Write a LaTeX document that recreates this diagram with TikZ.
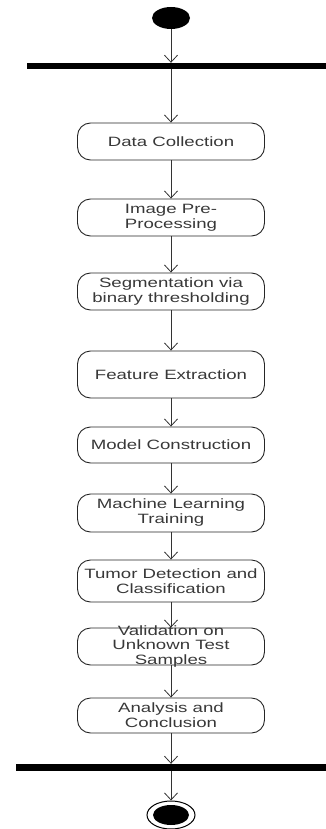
\documentclass[tikz,border=0pt]{standalone}
\usepackage{fontspec}
\newfontfamily\diafont[FakeStretch=1.38]{Liberation Sans}
\usetikzlibrary{arrows.meta,shapes.geometric}
\begin{document}
\begin{tikzpicture}[x=1pt,y=-1pt,
  act/.style={draw=black!85, line width=0.9pt, rounded corners=13pt, minimum width=187pt, minimum height=37pt, inner sep=0pt, align=center, font=\diafont\fontsize{13.5}{15}\selectfont, text=black!78},
  flow/.style={draw=black!80, line width=0.8pt, -{Straight Barb[length=7pt,width=13pt]}},
  bar/.style={fill=black, draw=none, inner sep=0pt, rectangle}]
\useasboundingbox (0,0) rectangle (326,829);
\node[ellipse, fill=black, minimum width=38pt, minimum height=22pt, inner sep=0pt] (start) at (171,18) {};
\node[bar, minimum width=299pt, minimum height=6pt] (fork) at (176.5,66) {};
\node[act] (a1) at (171,141.5) {Data Collection};
\node[act] (a2) at (171,217.5) {Image Pre-\\Processing};
\node[act] (a3) at (171,291.5) {Segmentation via\\binary thresholding};
\node[act, minimum height=47pt] (a4) at (171,374.5) {Feature Extraction};
\node[act, minimum height=36pt] (a5) at (171,445) {Model Construction};
\node[act, minimum height=38pt] (a6) at (171,513) {Machine Learning\\Training};
\node[act, minimum height=42pt] (a7) at (171,581) {Tumor Detection and\\Classification};
\node[act, minimum height=37pt, text height=0pt, text depth=0pt] (a8) at (171,646.5) {};
\node[font=\diafont\fontsize{13.5}{14.5}\selectfont, text=black!78, align=center, inner sep=0pt] (a8t) at (a8.center) {Validation on\\Unknown Test\\Samples};
\node[act, minimum height=35pt] (a9) at (171,715.5) {Analysis and\\Conclusion};
\node[bar, minimum width=310pt, minimum height=7pt] (join) at (171,767.5) {};
\node[ellipse, draw=black, line width=1pt, minimum width=48pt, minimum height=28pt, inner sep=0pt] (endo) at (171,815) {};
\node[ellipse, fill=black, minimum width=36pt, minimum height=20pt, inner sep=0pt] (endi) at (endo.center) {};
\draw[flow] (start.south) -- (start.south |- fork.north);
\draw[flow] (start.south |- fork.south) -- (a1.north);
\draw[flow] (a1) -- (a2);
\draw[flow] (a2) -- (a3);
\draw[flow] (a3) -- (a4);
\draw[flow] (a4) -- (a5);
\draw[flow] (a5) -- (a6);
\draw[flow] (a6) -- (a7);
\draw[flow] (a7) -- (a8);
\draw[flow] (a8) -- (a9);
\draw[flow] (a9.south) -- (a9.south |- join.north);
\draw[flow] (a9.south |- join.south) -- (endo.north);
\end{tikzpicture}
\end{document}
